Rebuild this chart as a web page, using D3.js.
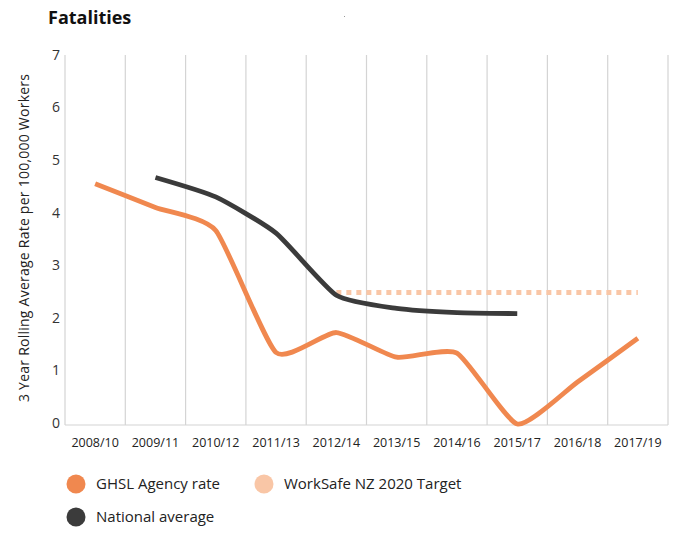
<!DOCTYPE html>
<html><head><meta charset="utf-8">
<script src="https://cdn.jsdelivr.net/npm/d3@7"></script>
<style>body{margin:0;background:#fff;} text{font-family:"Open Sans","Noto Sans",sans-serif;}</style>
</head><body>
<svg id="c" width="674" height="535"></svg>
<script>
const categories = ["2008/10","2009/11","2010/12","2011/13","2012/14","2013/15","2014/16","2015/17","2016/18","2017/19"];
const ghslRate = [4.57, 4.12, 3.68, 1.36, 1.74, 1.27, 1.35, 0.0, 0.80, 1.63];
const nationalAvg = [null, 4.69, 4.32, 3.63, 2.45, 2.2, 2.12, 2.1, null, null];
const target = [null, null, null, null, 2.5, 2.5, 2.5, 2.5, 2.5, 2.5];
const yTicks = [0,1,2,3,4,5,6,7];
const legendItems = [
  {label:"GHSL Agency rate", color:"#f0884f"},
  {label:"WorkSafe NZ 2020 Target", color:"#f9c6a6"},
  {label:"National average", color:"#3b3b3b"}
];

const svg = d3.select("#c");
const x = d3.scaleBand().domain(categories).range([65, 668]).padding(0);
const cx = c => x(c) + x.bandwidth()/2;
const y = d3.scaleLinear().domain([0,7]).range([424, 56]);

// title
svg.append("text").attr("x",48).attr("y",24).attr("font-size",18).attr("font-weight",700).attr("fill","#111").text("Fatalities");
svg.append("rect").attr("x",344).attr("y",16).attr("width",1).attr("height",1).attr("fill","#999");

// grid
const grid = svg.append("g").attr("stroke","#d4d4d4").attr("stroke-width",1.2);
categories.forEach(c => {
  grid.append("line").attr("x1",x(c)).attr("x2",x(c)).attr("y1",y(7)-1).attr("y2",425);
});
grid.append("line").attr("x1",668).attr("x2",668).attr("y1",y(7)-1).attr("y2",425);
grid.append("line").attr("x1",65).attr("x2",668).attr("y1",425).attr("y2",425);

// y tick labels
svg.append("g").selectAll("text").data(yTicks).join("text")
  .attr("x",60).attr("y",d=>y(d)-1).attr("dy","0.35em").attr("text-anchor","end")
  .attr("font-size",14).attr("fill","#333").text(d=>d);

// y title
svg.append("text").attr("transform","translate(24,238) rotate(-90)").attr("text-anchor","middle")
  .attr("dy","0.35em").attr("font-size",14).attr("fill","#222")
  .attr("textLength",328).attr("lengthAdjust","spacing")
  .text("3 Year Rolling Average Rate per 100,000 Workers");

// x labels
svg.append("g").selectAll("text").data(categories).join("text")
  .attr("x",d=>cx(d)).attr("y",447).attr("text-anchor","middle")
  .attr("font-size",12.5).attr("fill","#222").text(d=>d);

const curve = d3.curveCardinal.tension(0.45);
const line = d3.line().defined(d=>d.v!=null).x(d=>cx(d.c)).y(d=>y(d.v)).curve(curve);
const toPts = arr => categories.map((c,i)=>({c, v:arr[i]}));
const lineStraight = d3.line().defined(d=>d.v!=null).x(d=>cx(d.c)).y(d=>y(d.v));

// target
svg.append("path").datum(toPts(target)).attr("d",lineStraight).attr("fill","none")
  .attr("stroke","#f9c6a6").attr("stroke-width",5).attr("stroke-dasharray","5,5");

svg.append("path").datum(toPts(nationalAvg).filter(d=>d.v!=null)).attr("d",line).attr("fill","none")
  .attr("stroke","#3b3b3b").attr("stroke-width",4.8);
svg.append("path").datum(toPts(ghslRate)).attr("d",line).attr("fill","none")
  .attr("stroke","#f0884f").attr("stroke-width",4.8);

// legend
const legPos = [{x:76,y:484},{x:264,y:484},{x:76,y:517}];
legendItems.forEach((d,i)=>{
  const g = svg.append("g").attr("transform",`translate(${legPos[i].x},${legPos[i].y})`);
  g.append("circle").attr("r",9.5).attr("fill",d.color);
  g.append("text").attr("x",20).attr("dy","0.35em").attr("font-size",15).attr("fill","#222").text(d.label);
});
</script>
</body></html>
